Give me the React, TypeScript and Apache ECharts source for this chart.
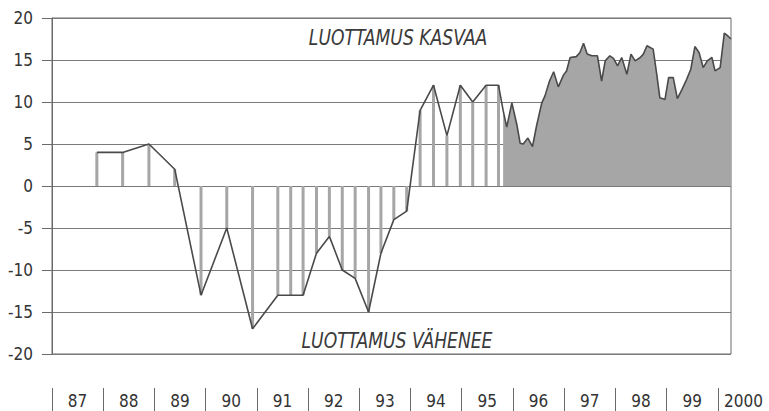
import React, { useEffect, useRef } from "react";
import * as echarts from "echarts";

// Survey results (semi-annual until 1990, then quarterly), decimal year
const surveyTimes = [
  1987.87, 1988.37, 1988.88, 1989.38, 1989.89, 1990.39, 1990.89, 1991.38,
  1991.63, 1991.87, 1992.13, 1992.38, 1992.63, 1992.88, 1993.14, 1993.38,
  1993.63, 1993.88, 1994.14, 1994.4, 1994.66, 1994.92, 1995.16, 1995.42,
  1995.66,
];
const surveyValues = [
  4, 4, 5, 2, -13, -5, -17, -13, -13, -13, -8, -6, -10, -11, -15, -8, -4, -3,
  9, 12, 6, 12, 10, 12, 12,
];

// Monthly results from late 1995 onwards, decimal year
const monthlyTimes = [
  1995.75, 1995.82, 1995.92, 1996.02, 1996.08, 1996.14, 1996.23, 1996.32,
  1996.4, 1996.5, 1996.56, 1996.65, 1996.73, 1996.82, 1996.92, 1996.98,
  1997.05, 1997.17, 1997.24, 1997.31, 1997.38, 1997.47, 1997.58, 1997.66,
  1997.73, 1997.82, 1997.89, 1997.97, 1998.05, 1998.15, 1998.23, 1998.31,
  1998.41, 1998.47, 1998.54, 1998.66, 1998.73, 1998.79, 1998.89, 1998.96,
  1999.05, 1999.13, 1999.22, 1999.31, 1999.39, 1999.47, 1999.55, 1999.63,
  1999.71, 1999.8, 1999.86, 1999.96, 2000.04, 2000.12, 2000.17,
];
const monthlyValues = [
  9, 7, 9.9, 7.2, 5.1, 5, 5.7, 4.7, 7.2, 9.9, 10.7, 12.5, 13.6, 11.8, 13.2,
  13.7, 15.3, 15.4, 15.9, 17, 15.7, 15.5, 15.5, 12.5, 14.9, 15.5, 15.2, 14.3,
  15.3, 13.3, 15.7, 14.9, 15.3, 15.7, 16.7, 16.3, 13.3, 10.5, 10.3, 12.9,
  12.9, 10.4, 11.5, 12.7, 13.9, 16.6, 15.9, 14.1, 14.9, 15.3, 13.7, 14.1,
  18.2, 17.8, 17.5,
];

const yearLabels = [
  "87", "88", "89", "90", "91", "92", "93", "94", "95", "96", "97", "98", "99", "2000",
];

const xStart = 1987;
const xEnd = 2000.17;
const yMin = -20;
const yMax = 20;
const yStep = 5;

const labelUp = "LUOTTAMUS KASVAA";
const labelDown = "LUOTTAMUS VÄHENEE";

const FONT = "'Liberation Sans Narrow', 'Arial Narrow', 'DejaVu Sans Condensed', sans-serif";

export default function App() {
  const ref = useRef<HTMLDivElement>(null);

  useEffect(() => {
    if (!ref.current) return;
    const chart = echarts.init(ref.current, null, { renderer: "svg" });

    const surveyPairs = surveyTimes.map((t, i) => [t, surveyValues[i]]);
    const monthlyPairs = monthlyTimes.map((t, i) => [t, monthlyValues[i]]);

    chart.setOption({
      animation: false,
      backgroundColor: "#ffffff",
      grid: [
        {
          left: 52,
          top: 18,
          right: 38,
          bottom: 57,
          show: true,
          borderColor: "#6a6a6a",
          borderWidth: 1,
          containLabel: false,
        },
        {
          left: 52,
          top: 388,
          width: 14 * 51.55,
          height: 0,
          containLabel: false,
        },
      ],
      xAxis: [
        {
          gridIndex: 0,
          type: "value",
          min: xStart,
          max: xEnd,
          axisLine: { show: false },
          axisTick: { show: false },
          axisLabel: { show: false },
          splitLine: { show: false },
        },
        {
          gridIndex: 1,
          type: "category",
          data: yearLabels,
          position: "bottom",
          boundaryGap: true,
          axisLine: { show: false },
          axisTick: {
            show: true,
            interval: 0,
            length: 25,
            lineStyle: { color: "#6a6a6a", width: 1 },
          },
          axisLabel: {
            interval: 0,
            margin: 4,
            color: "#333",
            fontSize: 17,
            fontFamily: FONT,
          },
          splitLine: { show: false },
        },
      ],
      yAxis: [
        {
          gridIndex: 0,
          type: "value",
          min: yMin,
          max: yMax,
          interval: yStep,
          axisLine: { show: true, lineStyle: { color: "#6a6a6a", width: 1 } },
          axisTick: { show: true, length: 10, lineStyle: { color: "#6a6a6a" } },
          axisLabel: {
            margin: 19,
            color: "#333",
            fontSize: 17,
            fontFamily: FONT,
          },
          splitLine: { show: true, lineStyle: { color: "#7a7a7a", width: 1 } },
        },
        {
          gridIndex: 1,
          type: "value",
          show: false,
        },
      ],
      series: [
        {
          type: "bar",
          xAxisIndex: 0,
          yAxisIndex: 0,
          data: surveyPairs,
          barWidth: 3,
          itemStyle: { color: "#a6a6a6" },
          z: 2,
        },
        {
          type: "line",
          xAxisIndex: 0,
          yAxisIndex: 0,
          data: monthlyPairs,
          symbol: "none",
          lineStyle: { width: 0, opacity: 0 },
          areaStyle: { color: "#a6a6a6", opacity: 1 },
          z: 3,
        },
        {
          type: "line",
          xAxisIndex: 0,
          yAxisIndex: 0,
          data: [...surveyPairs, ...monthlyPairs],
          symbol: "none",
          lineStyle: { color: "#4a4a4a", width: 1.6 },
          z: 4,
        },
      ],
      graphic: [
        {
          type: "text",
          x: 398,
          y: 38,
          scaleX: 0.91,
          style: {
            text: labelUp,
            align: "center",
            verticalAlign: "middle",
            fontSize: 21,
            fontStyle: "italic",
            fontFamily: FONT,
            fill: "#3a3a3a",
          },
        },
        {
          type: "text",
          x: 397,
          y: 341,
          scaleX: 0.91,
          style: {
            text: labelDown,
            align: "center",
            verticalAlign: "middle",
            fontSize: 21,
            fontStyle: "italic",
            fontFamily: FONT,
            fill: "#3a3a3a",
          },
        },
      ],
    });

    return () => chart.dispose();
  }, []);

  return (
    <div
      ref={ref}
      style={{ position: "absolute", left: 0, top: 0, width: 769, height: 411 }}
    />
  );
}
